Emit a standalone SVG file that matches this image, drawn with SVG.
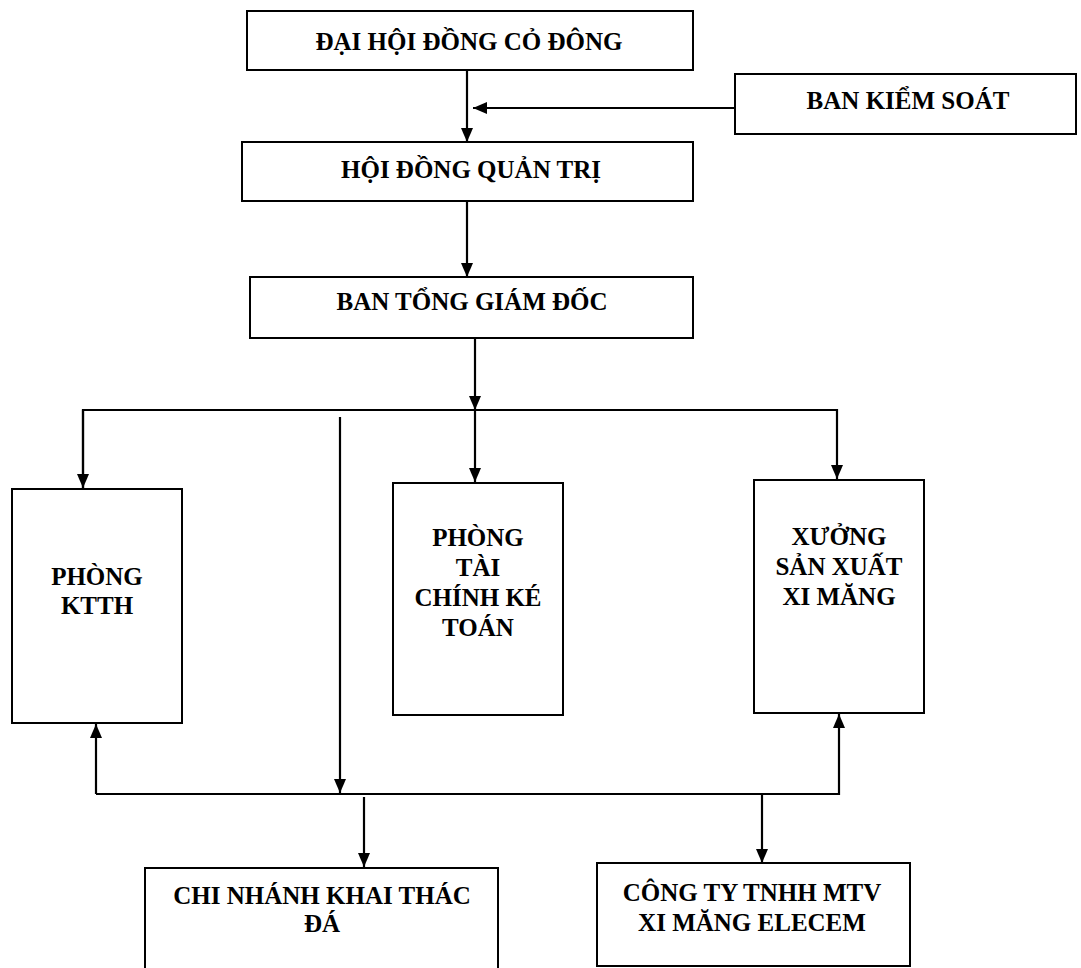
<svg xmlns="http://www.w3.org/2000/svg" width="1081" height="968" viewBox="0 0 1081 968">
<style>
.box{fill:#fff;stroke:#000;stroke-width:2}
.t{font-family:"Liberation Serif","Times New Roman",serif;font-weight:bold;font-size:25px;fill:#000;text-anchor:middle}
.c{fill:none;stroke:#000;stroke-width:2.2}
</style>
<defs>
<marker id="ah" markerUnits="userSpaceOnUse" viewBox="0 0 14 12" refX="14" refY="6" markerWidth="14" markerHeight="12" orient="auto">
<path d="M0,0 L14,6 L0,12 z" fill="#000"/>
</marker>
</defs>
<rect width="1081" height="968" fill="#fff"/>
<g id="connectors">
<path class="c" d="M467,70 V142" marker-end="url(#ah)"/>
<path class="c" d="M735,108 H473" marker-end="url(#ah)"/>
<path class="c" d="M467,201 V277" marker-end="url(#ah)"/>
<path class="c" d="M475,338 V410" marker-end="url(#ah)"/>
<path class="c" d="M83,488 V410 H837 V479" marker-end="url(#ah)"/>
<path class="c" d="M83,410 V488" marker-end="url(#ah)"/>
<path class="c" d="M475,410 V482" marker-end="url(#ah)"/>
<path class="c" d="M340,417 V793" marker-end="url(#ah)"/>
<path class="c" d="M96,794 H839 V714" marker-end="url(#ah)"/>
<path class="c" d="M96,794 V724" marker-end="url(#ah)"/>
<path class="c" d="M364,797 V867" marker-end="url(#ah)"/>
<path class="c" d="M762,793 V863" marker-end="url(#ah)"/>
</g>
<g id="dhcd">
<rect class="box" x="247" y="11" width="446" height="59"/>
<text class="t" x="469" y="50">ĐẠI HỘI ĐỒNG CỎ ĐÔNG</text>
</g>
<g id="bks">
<rect class="box" x="735" y="74" width="341" height="60"/>
<text class="t" x="908" y="109">BAN KIỂM SOÁT</text>
</g>
<g id="hdqt">
<rect class="box" x="242" y="142" width="451" height="59"/>
<text class="t" x="471" y="178">HỘI ĐỒNG QUẢN TRỊ</text>
</g>
<g id="btgd">
<rect class="box" x="250" y="277" width="443" height="61"/>
<text class="t" x="472" y="310">BAN TỔNG GIÁM ĐỐC</text>
</g>
<g id="ktth">
<rect class="box" x="12" y="489" width="170" height="234"/>
<text class="t" x="97" y="585">PHÒNG</text>
<text class="t" x="97" y="614">KTTH</text>
</g>
<g id="tckt">
<rect class="box" x="393" y="483" width="170" height="232"/>
<text class="t" x="478" y="546">PHÒNG</text>
<text class="t" x="478" y="576">TÀI</text>
<text class="t" x="478" y="606">CHÍNH KÉ</text>
<text class="t" x="478" y="636">TOÁN</text>
</g>
<g id="xuong">
<rect class="box" x="754" y="480" width="170" height="233"/>
<text class="t" x="839" y="545">XƯỞNG</text>
<text class="t" x="839" y="575">SẢN XUẤT</text>
<text class="t" x="839" y="605">XI MĂNG</text>
</g>
<g id="chinhanh">
<rect class="box" x="145" y="868" width="353" height="110"/>
<text class="t" x="322" y="904">CHI NHÁNH KHAI THÁC</text>
<text class="t" x="322" y="932">ĐÁ</text>
</g>
<g id="elecem">
<rect class="box" x="597" y="863" width="313" height="103"/>
<text class="t" x="752" y="901">CÔNG TY TNHH MTV</text>
<text class="t" x="752" y="931">XI MĂNG ELECEM</text>
</g>
</svg>
